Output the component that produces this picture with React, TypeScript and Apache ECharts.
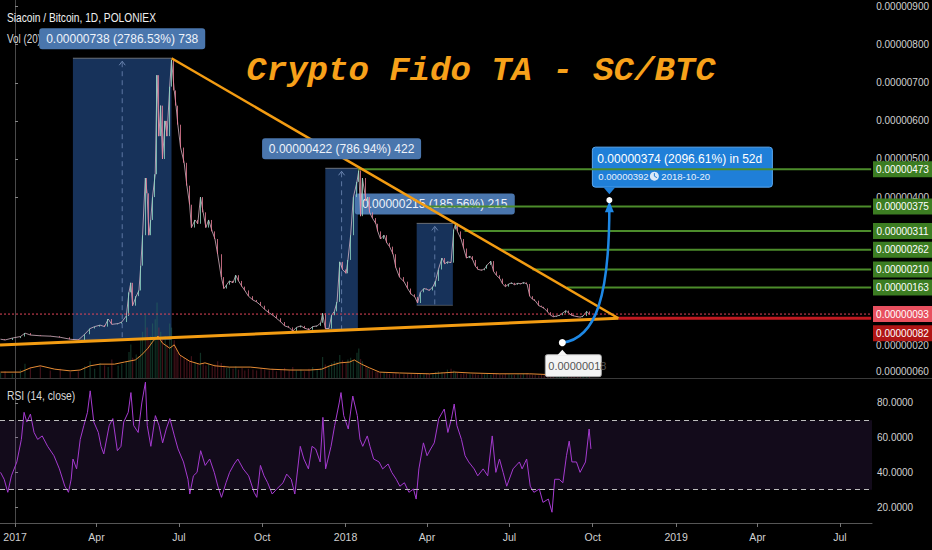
import React, { useEffect, useRef } from "react";
import * as echarts from "echarts";

// ---- price (SC/BTC, in satoshi), day offsets from 2017-01-01 ----
const priceDays = [
  -16, -11, -3, 6, 11, 17, 28, 39, 50, 61,
  70, 77, 83, 88, 94, 99, 103, 107, 114, 118,
  123, 126, 128, 130, 134, 137, 139, 141, 144, 146,
  148, 150, 152, 155, 157, 159, 161, 163, 166, 168,
  171, 173, 176, 178, 180, 183, 187, 190, 193, 195,
  199, 202, 205, 208, 211, 214, 218, 221, 224, 228,
  231, 234, 237, 241, 244, 247, 251, 254, 258, 263,
  267, 272, 276, 281, 285, 289, 294, 298, 303, 307,
  311, 316, 320, 325, 329, 334, 338, 340, 343, 347,
  350, 353, 356, 359, 362, 366, 368, 371, 374, 378,
  380, 382, 384, 388, 390, 392, 395, 399, 401, 404,
  408, 411, 414, 418, 421, 425, 430, 434, 438, 442,
  445, 448, 452, 455, 458, 462, 465, 468, 472, 475,
  478, 482, 485, 487, 489, 493, 496, 499, 503, 506,
  509, 512, 516, 519, 522, 526, 529, 532, 536, 539,
  542, 546, 549, 552, 556, 559, 562, 566, 569, 572,
  575, 579, 582, 585, 589, 592, 595, 599, 602, 605,
  609, 612, 615, 618, 622, 625, 628, 632, 635,
];
const priceClose = [
  27, 25, 30, 34, 43, 38, 36, 35, 32, 27,
  25, 40, 55, 60, 64, 60, 80, 66, 68, 72,
  88, 150, 175, 115, 140, 155, 220, 300, 450, 410,
  300, 340, 400, 460, 720, 560, 640, 500, 600, 560,
  690, 760, 680, 640, 590, 530, 490, 430, 380, 320,
  340, 330, 400, 360, 320, 340, 310, 290, 250, 190,
  160, 170, 180, 175, 195, 180, 165, 155, 140, 130,
  125, 115, 105, 96, 90, 82, 72, 62, 58, 48,
  58, 62, 56, 52, 60, 62, 70, 95, 55, 55,
  90, 100, 125, 230, 210, 200, 235, 300, 400, 440,
  470, 350, 450, 390, 400, 360, 345, 330, 310, 290,
  300, 280, 270, 250, 215, 190, 178, 160, 145, 138,
  122, 150, 160, 158, 155, 165, 180, 210, 240, 225,
  230, 228, 315, 330, 310, 290, 265, 240, 245, 235,
  218, 210, 208, 212, 222, 232, 205, 195, 186, 172,
  165, 172, 175, 170, 174, 172, 176, 172, 140, 132,
  128, 115, 112, 108, 98, 90, 86, 88, 90, 95,
  102, 96, 90, 88, 86, 85, 88, 100, 92,
];
const volumeValues = [
  12, 16, 10, 20, 34, 26, 30, 18, 22, 14, 16,
  28, 40, 22, 36, 30, 26, 44, 30, 34, 40,
  62, 80, 48, 56, 52, 90, 110, 150, 120, 90, 100, 130, 140,
  180, 120, 110, 95, 100, 80, 130, 120, 90, 70, 60,
  55, 48, 45, 40, 52, 38, 34, 60, 36, 30, 34, 28, 32, 40, 36,
  30, 24, 26, 22, 28, 20, 24, 18, 22, 20, 18, 24, 20, 18, 22, 16, 20, 24, 18, 26,
  18, 20, 16, 22, 26, 20, 24, 50, 32, 30,
  36, 40, 38, 55, 42, 36, 44, 48, 40, 60, 70, 45, 40,
  30, 24, 20, 18, 15, 14, 12, 14, 12, 10, 11, 12, 10, 9, 10, 11, 9, 12,
  10, 9, 11, 10, 12, 14, 16, 14, 12, 20, 22, 18, 14, 12, 10, 11, 10, 9, 10,
  9, 8, 10, 9, 10, 8, 11, 10, 9, 8, 10, 9, 8, 7, 9, 8, 10, 12, 9, 8,
  7, 6, 8, 7, 6, 7, 8, 6, 7, 9, 7, 6, 7, 8, 6, 7, 6, 9, 7,
];
const volMaDays = [
  -16, 6, 17, 28, 44, 61, 72, 83, 94, 110, 121, 133, 140, 147, 152, 158, 163, 171, 176, 182,
  193, 204, 210, 221, 237, 260, 282, 304, 326, 339, 348, 359, 370, 375, 383, 392, 403, 425,
  458, 486, 503, 536, 569, 602, 635,
];
const volMaValues = [
  14, 14, 24, 29, 21, 17, 19, 29, 33, 33, 38, 43, 55, 71, 86, 100, 83, 71, 79, 55,
  40, 33, 36, 29, 26, 26, 21, 19, 19, 21, 29, 36, 38, 43, 33, 24, 14, 12,
  10, 14, 12, 10, 10, 7, 7,
];

// ---- RSI (14, close) ----
const rsiDays = [
  -16, -12, -8, -4, 2, 7, 10, 13, 17, 21,
  25, 30, 36, 43, 49, 55, 59, 62, 64, 68,
  72, 76, 80, 83, 87, 92, 95, 98, 104, 108,
  113, 117, 120, 125, 128, 131, 136, 140, 144, 146,
  150, 155, 159, 163, 167, 171, 176, 180, 186, 191,
  193, 197, 201, 205, 210, 215, 220, 224, 228, 233,
  237, 242, 246, 252, 258, 264, 267, 271, 275, 279,
  284, 289, 296, 300, 305, 309, 315, 319, 324, 328,
  332, 337, 340, 343, 349, 353, 358, 360, 363, 368,
  373, 378, 381, 384, 389, 392, 396, 402, 406, 412,
  416, 421, 425, 430, 435, 440, 443, 446, 451, 455,
  459, 463, 468, 474, 478, 482, 485, 488, 493, 497,
  501, 507, 511, 517, 522, 527, 531, 535, 539, 543,
  550, 557, 560, 565, 569, 573, 579, 583, 589, 593,
  596, 601, 605, 609, 612, 615, 620, 624, 630, 634,
  636,
];
const rsiValues = [
  40, 36, 28.5, 38, 46, 59, 74.6, 69, 73.6, 63,
  59, 61, 55, 49.6, 42, 32, 28.5, 36, 47.7, 42,
  59, 67, 74.6, 87, 69, 63, 55, 50.6, 67, 71,
  52.5, 55, 69, 74.6, 86, 67, 63, 80, 92, 67,
  55, 72.7, 67, 57, 65, 71, 61, 53.5, 46, 36,
  27.5, 38, 40, 52.5, 44, 47.7, 40, 32, 25.6, 34,
  40, 44.8, 47.7, 42, 38, 28.5, 25.6, 44, 38, 34,
  27.5, 30.4, 34, 39, 36, 27.5, 55, 47.7, 42, 55,
  53.5, 46, 71.7, 42, 55, 67, 80, 86, 72.7, 65,
  84, 72.7, 59, 55, 61, 55, 47.7, 46, 42, 44.8,
  40, 36, 32, 34, 28.5, 30.4, 24.6, 42, 57, 49.6,
  53.5, 57, 71, 76.5, 63, 71, 79.4, 67, 59, 49.6,
  46, 42, 38, 42, 38, 61, 40, 47.7, 40, 32,
  42, 46, 42, 47.7, 32, 28.5, 30.4, 22.7, 24.6, 17,
  36, 36, 34, 49.6, 58, 46, 46, 40, 46, 65,
  53.5,
];

// ---- axes ticks ----
const monthTickDays = [0, 90, 181, 273, 365, 455, 546, 638, 730, 820, 911];
const monthTickLabels = ["2017", "Apr", "Jul", "Oct", "2018", "Apr", "Jul", "Oct", "2019", "Apr", "Jul"];
const priceTickValues = [400, 500, 600, 700, 800, 900];
const rsiTickValues = [20, 40, 60, 80];

// ---- drawings ----
const greenLevels = [473, 375, 311, 262, 210, 163];
const greenStartDays = [379, 453, 497, 536, 572, 610];
const redDottedLevel = 93;
const redSolidLevel = 82;
const apexDay = 667;
const upperTrend = [[173, 764.5], [667, 82]];
const lowerTrend = [[-16.6, 11.8], [667, 82]];
const boxStartDays = [64, 343, 444];
const boxEndDays = [173, 379, 484];
const boxLow = [26.5, 53.6, 115.9];
const boxHigh = [764.5, 475.6, 331];
const boxLabels = ["0.00000738 (2786.53%) 738", "0.00000422 (786.94%) 422", "0.00000215 (185.56%) 215"];
const forecastFrom = [605, 18];
const forecastTo = [657, 392];
const forecastText = "0.00000374 (2096.61%) in 52d";
const forecastTarget = "0.00000392";
const forecastDate = "2018-10-20";

const X_MIN = -16.6;
const X_MAX = 946.4;
const P_MIN = -74.8;
const P_MAX = 917.3;
const RSI_MIN = 10.8;
const RSI_MAX = 94.4;
const VOL_MAX = 900;

const sat = (v: number) => (v * 1e-8).toFixed(8);
const SANS = '"Liberation Sans", Arial, sans-serif';

function txt(x: number, y: number, text: string, font: string, fill: string, align = "left", z = 100, scaleX = 1): any {
  return {
    type: "text",
    x,
    y,
    z,
    scaleX,
    silent: true,
    style: { text, font, fill, align, textAlign: align, verticalAlign: "middle", textVerticalAlign: "middle" },
  };
}

export default function App() {
  const ref = useRef<HTMLDivElement>(null);
  useEffect(() => {
    document.body.style.margin = "0";
    document.body.style.background = "#000";
    const chart = echarts.init(ref.current!, null, { renderer: "svg" });

    const candles = priceClose.map((c, i) => {
      const o = i > 0 ? priceClose[i - 1] : c;
      return [priceDays[i], o, c, Math.min(o, c), Math.max(o, c)];
    });
    const vols = volumeValues.map((v, i) => ({
      value: [priceDays[i], v],
      itemStyle: {
        color: i > 0 && priceClose[i] < priceClose[i - 1] ? "rgba(170,45,65,0.38)" : "rgba(45,130,95,0.38)",
      },
    }));

    const levelSeries = (v: number, start: number, color: string, width: number, type: any, z = 3) => ({
      type: "line",
      xAxisIndex: 0,
      yAxisIndex: 0,
      data: [[start, v], [X_MAX, v]],
      symbol: "none",
      silent: true,
      z,
      lineStyle: { color, width, type },
    });

    const option: any = {
      animation: false,
      backgroundColor: "#000",
      grid: [
        { left: 0, right: 60, top: 0, height: 378 },
        { left: 0, right: 60, top: 378, height: 145 },
      ],
      xAxis: [
        { type: "value", gridIndex: 0, min: X_MIN, max: X_MAX, show: false },
        {
          type: "value",
          gridIndex: 1,
          min: X_MIN,
          max: X_MAX,
          splitLine: { show: false },
          axisLine: { show: true, lineStyle: { color: "#555" } },
          axisTick: { show: true, customValues: monthTickDays, length: 4, lineStyle: { color: "#777" } },
          axisLabel: {
            customValues: monthTickDays,
            color: "#d0d0d0",
            fontSize: 10.5,
            fontFamily: SANS,
            margin: 8,
            formatter: (v: number) => monthTickLabels[monthTickDays.indexOf(v)] ?? "",
          },
        },
      ],
      yAxis: [
        {
          type: "value",
          gridIndex: 0,
          position: "right",
          min: P_MIN,
          max: P_MAX,
          splitLine: { show: false },
          axisLine: { show: true, lineStyle: { color: "#4a4a4a" } },
          axisTick: { show: true, customValues: priceTickValues, length: 3, lineStyle: { color: "#888" } },
          axisLabel: {
            customValues: priceTickValues,
            color: "#d0d0d0",
            fontSize: 10,
            fontFamily: SANS,
            margin: 5,
            formatter: (v: number) => sat(v),
          },
        },
        { type: "value", gridIndex: 0, min: 0, max: VOL_MAX, show: false },
        {
          type: "value",
          gridIndex: 1,
          position: "right",
          min: RSI_MIN,
          max: RSI_MAX,
          splitLine: { show: false },
          axisLine: { show: true, lineStyle: { color: "#4a4a4a" } },
          axisTick: { show: true, customValues: rsiTickValues, length: 3, lineStyle: { color: "#888" } },
          axisLabel: {
            customValues: rsiTickValues,
            color: "#d0d0d0",
            fontSize: 10,
            fontFamily: SANS,
            margin: 5,
            formatter: (v: number) => v.toFixed(4),
          },
        },
      ],
      series: [
        {
          type: "line",
          xAxisIndex: 0,
          yAxisIndex: 0,
          data: priceDays.map((d, i) => [d, priceClose[i]]),
          symbol: "none",
          silent: true,
          z: 2,
          lineStyle: { color: "rgba(225,190,205,0.75)", width: 1 },
        },
        {
          type: "candlestick",
          xAxisIndex: 0,
          yAxisIndex: 0,
          data: candles,
          encode: { x: 0, y: [1, 2, 3, 4] },
          barWidth: 1.3,
          z: 2,
          itemStyle: {
            color: "#8fd8c4",
            color0: "#ea7f98",
            borderColor: "#8fd8c4",
            borderColor0: "#ea7f98",
            borderWidth: 0.8,
          },
        },
        {
          type: "bar",
          xAxisIndex: 0,
          yAxisIndex: 1,
          data: vols,
          barWidth: 1.2,
          z: 1,
          silent: true,
        },
        {
          type: "line",
          xAxisIndex: 0,
          yAxisIndex: 1,
          data: volMaDays.map((d, i) => [d, volMaValues[i]]),
          symbol: "none",
          z: 1,
          silent: true,
          lineStyle: { color: "#e58b34", width: 1 },
        },
        levelSeries(redDottedLevel, X_MIN, "#e0455a", 1, [2, 2]),
        levelSeries(redSolidLevel, apexDay, "#c2181f", 3, "solid"),
        ...greenLevels.map((v, i) => levelSeries(v, greenStartDays[i], "#4c8c2b", 2, "solid")),
        {
          type: "line",
          xAxisIndex: 0,
          yAxisIndex: 0,
          data: upperTrend,
          symbol: "none",
          z: 4,
          silent: true,
          lineStyle: { color: "#f39c12", width: 2.5 },
        },
        {
          type: "line",
          xAxisIndex: 0,
          yAxisIndex: 0,
          data: lowerTrend,
          symbol: "none",
          z: 4,
          silent: true,
          lineStyle: { color: "#f39c12", width: 3 },
        },
        {
          type: "line",
          xAxisIndex: 1,
          yAxisIndex: 2,
          data: rsiDays.map((d, i) => [d, rsiValues[i]]),
          symbol: "none",
          silent: true,
          lineStyle: { color: "#a53bd0", width: 1 },
          markArea: {
            silent: true,
            itemStyle: { color: "rgba(120,70,170,0.16)" },
            data: [[{ yAxis: 30 }, { yAxis: 70 }]],
          },
          markLine: {
            silent: true,
            symbol: ["none", "none"],
            label: { show: false },
            lineStyle: { color: "#bdbdbd", type: [5, 4], width: 1.2 },
            data: [{ yAxis: 70 }, { yAxis: 30 }],
          },
        },
      ],
    };
    chart.setOption(option);

    const P = (d: number, p: number) =>
      chart.convertToPixel({ xAxisIndex: 0, yAxisIndex: 0 } as any, [d, p]) as number[];

    const g: any[] = [];
    g.push({ type: "line", z: 50, silent: true, shape: { x1: 0, y1: 378.5, x2: 932, y2: 378.5 }, style: { stroke: "#3a3a3a", lineWidth: 1 } });

    // measured boxes
    boxStartDays.forEach((s, i) => {
      const tl = P(s, boxHigh[i]);
      const br = P(boxEndDays[i], boxLow[i]);
      const w = br[0] - tl[0];
      const h = br[1] - tl[1];
      const cx = (tl[0] + br[0]) / 2;
      g.push({ type: "rect", z: 1, silent: true, shape: { x: tl[0], y: tl[1], width: w, height: h }, style: { fill: "rgba(45,100,180,0.5)" } });
      g.push({ type: "line", z: 1, silent: true, shape: { x1: tl[0], y1: tl[1], x2: br[0], y2: tl[1] }, style: { stroke: "rgba(170,170,170,0.6)", lineWidth: 1 } });
      g.push({ type: "line", z: 1, silent: true, shape: { x1: tl[0], y1: br[1], x2: br[0], y2: br[1] }, style: { stroke: "rgba(170,170,170,0.4)", lineWidth: 1 } });
      g.push({ type: "line", z: 1, silent: true, shape: { x1: cx, y1: tl[1] + 4, x2: cx, y2: br[1] }, style: { stroke: "rgba(140,165,210,0.6)", lineWidth: 1, lineDash: [5, 4] } });
      g.push({ type: "polyline", z: 1, silent: true, shape: { points: [[cx - 3, tl[1] + 7], [cx, tl[1] + 3], [cx + 3, tl[1] + 7]] }, style: { stroke: "rgba(140,165,210,0.7)", lineWidth: 1, fill: "none" } });
      const lw = [166, 159, 160][i];
      const z = i === 2 ? 1 : 100;
      g.push({ type: "rect", z, silent: true, shape: { x: cx - lw / 2, y: tl[1] - 30, width: lw, height: 21, r: 3 }, style: { fill: "#4a76ad" } });
      g.push(txt(cx, tl[1] - 19.5, boxLabels[i], `12px ${SANS}`, "#eef3fa", "center", z));
    });

    // forecast arrow
    const p0 = P(forecastFrom[0], forecastFrom[1]);
    const p3 = P(forecastTo[0], forecastTo[1]);
    g.push({
      type: "bezierCurve",
      z: 60,
      silent: true,
      shape: { x1: p0[0], y1: p0[1], cpx1: p0[0] + 34, cpy1: p0[1] - 4, cpx2: p3[0], cpy2: p3[1] + 95, x2: p3[0], y2: p3[1] + 6 },
      style: { stroke: "#1e88e5", lineWidth: 2.5, fill: "none" },
    });
    g.push({ type: "polygon", z: 61, silent: true, shape: { points: [[p3[0], p3[1] + 1], [p3[0] - 4.5, p3[1] + 12], [p3[0] + 4.5, p3[1] + 12]] }, style: { fill: "#1e88e5" } });
    g.push({ type: "circle", z: 62, silent: true, shape: { cx: p0[0], cy: p0[1], r: 3.5 }, style: { fill: "#ffffff" } });
    g.push({ type: "circle", z: 62, silent: true, shape: { cx: p3[0], cy: p3[1], r: 3 }, style: { fill: "#ffffff" } });
    g.push({ type: "rect", z: 60, silent: true, shape: { x: p0[0] - 17, y: p0[1] + 12, width: 56, height: 22, r: 2 }, style: { fill: "#f4f4f4", stroke: "#aaa", lineWidth: 1 } });
    g.push({ type: "polygon", z: 61, silent: true, shape: { points: [[p0[0], p0[1] + 7], [p0[0] - 5, p0[1] + 12.5], [p0[0] + 5, p0[1] + 12.5]] }, style: { fill: "#f4f4f4" } });
    g.push(txt(p0[0] - 14, p0[1] + 23, sat(forecastFrom[1]), `11px ${SANS}`, "#555", "left", 61));
    const tx = p3[0] - 17;
    const ty = p3[1] - 53;
    g.push({ type: "rect", z: 1, silent: true, shape: { x: tx, y: ty, width: 180, height: 40, r: 3 }, style: { fill: "#1f7fd8", stroke: "#5aa9f2", lineWidth: 1 } });
    g.push({ type: "polygon", z: 1, silent: true, shape: { points: [[p3[0] - 6, ty + 40], [p3[0] + 6, ty + 40], [p3[0], ty + 47]] }, style: { fill: "#1f7fd8" } });
    g.push(txt(tx + 5, ty + 12, forecastText, `12px ${SANS}`, "#ffffff", "left", 1));
    g.push(txt(tx + 6, ty + 29, forecastTarget, `9.5px ${SANS}`, "#e8f1fb", "left", 1));
    g.push({ type: "circle", z: 1, silent: true, shape: { cx: tx + 62, cy: ty + 29, r: 4.5 }, style: { fill: "#dbe8f7" } });
    g.push({ type: "polyline", z: 1, silent: true, shape: { points: [[tx + 62, ty + 26], [tx + 62, ty + 29], [tx + 64.5, ty + 30.5]] }, style: { stroke: "#1f7fd8", lineWidth: 1, fill: "none" } });
    g.push(txt(tx + 69, ty + 29, forecastDate, `9.5px ${SANS}`, "#e8f1fb", "left", 1));

    // right-axis price labels for the drawn levels
    g.push(txt(876, 345, sat(20), `10px ${SANS}`, "#cfcfcf", "left", 90));
    g.push(txt(876, 371, sat(60), `10px ${SANS}`, "#cfcfcf", "left", 90));
    greenLevels.forEach((v) => {
      const y = P(X_MAX, v)[1];
      g.push({ type: "rect", z: 100, silent: true, shape: { x: 873, y: y - 8, width: 59, height: 16 }, style: { fill: "#3c7d22" } });
      g.push(txt(902.5, y, sat(v), `10px ${SANS}`, "#ffffff", "center", 101));
    });
    const yd = P(X_MAX, redDottedLevel)[1];
    g.push({ type: "rect", z: 100, silent: true, shape: { x: 873, y: yd - 8, width: 59, height: 16 }, style: { fill: "#e8505f" } });
    g.push(txt(902.5, yd, sat(redDottedLevel), `10px ${SANS}`, "#ffffff", "center", 101));
    const ys = P(X_MAX, redSolidLevel)[1] + 15;
    g.push({ type: "rect", z: 100, silent: true, shape: { x: 873, y: ys - 8, width: 59, height: 16 }, style: { fill: "#b01515" } });
    g.push(txt(902.5, ys, sat(redSolidLevel), `10px ${SANS}`, "#ffffff", "center", 101));

    // titles
    g.push(txt(7, 18, "Siacoin / Bitcoin, 1D, POLONIEX", `12px ${SANS}`, "#f0f0f0", "left", 100, 0.85));
    g.push(txt(7, 39, "Vol (20)", `12px ${SANS}`, "#d8d8d8", "left", 99, 0.82));
    g.push(txt(7, 396, "RSI (14, close)", `12px ${SANS}`, "#d8d8d8", "left", 100, 0.86));
    g.push(txt(481, 71, "Crypto Fido TA - SC/BTC", `italic bold 34px "Liberation Mono", "Courier New", monospace`, "#f7a11a", "center", 100));

    chart.setOption({ graphic: { elements: g } });

    return () => chart.dispose();
  }, []);
  return <div ref={ref} style={{ width: 932, height: 550, background: "#000" }} />;
}
